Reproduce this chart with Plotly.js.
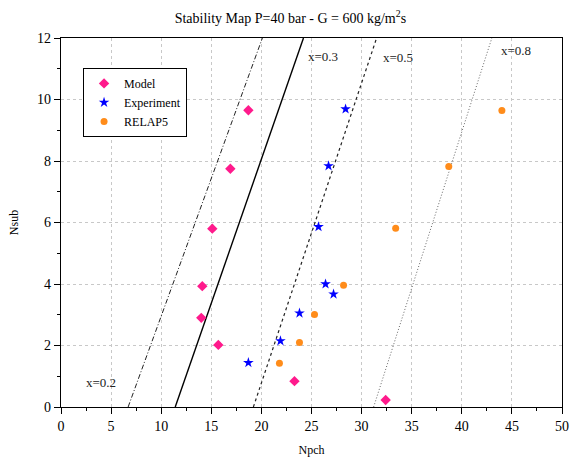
<!DOCTYPE html>
<html>
<head>
<meta charset="utf-8">
<script src="https://cdn.plot.ly/plotly-3.0.1.min.js"></script>
<style>html,body{margin:0;padding:0;background:#fff;}#chart{width:575px;height:457px;}</style>
</head>
<body>
<div id="chart"></div>
<script>
// Data
const modelX = [18.7, 16.9, 15.1, 14.1, 14.0, 15.7, 23.3, 32.4];
const modelY = [9.65, 7.75, 5.8, 3.93, 2.9, 2.02, 0.84, 0.23];
const expX = [28.4, 26.7, 25.7, 26.4, 27.2, 23.8, 21.9, 18.7];
const expY = [9.69, 7.84, 5.86, 4.0, 3.67, 3.05, 2.15, 1.44];
const relapX = [44.0, 38.7, 33.4, 28.2, 25.3, 23.8, 21.8];
const relapY = [9.64, 7.82, 5.81, 3.96, 3.01, 2.1, 1.42];
const lineY = [0, 12];
const line02X = [6.7, 20.1];
const line03X = [11.4, 24.2];
const line05X = [19.2, 31.5];
const line08X = [31.2, 43.0];
const lineLabels = ["x=0.2", "x=0.3", "x=0.5", "x=0.8"];
const labelX = [4.0, 26.15, 33.6, 45.4];
const labelY = [0.81, 11.41, 11.38, 11.6];

const serif = "Liberation Serif, Times New Roman, serif";

const traces = [
  {x: line02X, y: lineY, mode: 'lines', line: {color: '#222', width: 1, dash: '5px,2px,1px,2px'}, showlegend: false, hoverinfo: 'skip'},
  {x: line03X, y: lineY, mode: 'lines', line: {color: '#000', width: 1.4}, showlegend: false, hoverinfo: 'skip'},
  {x: line05X, y: lineY, mode: 'lines', line: {color: '#222', width: 1.2, dash: '3px,3px'}, showlegend: false, hoverinfo: 'skip'},
  {x: line08X, y: lineY, mode: 'lines', line: {color: '#666', width: 1, dash: '1px,2px'}, showlegend: false, hoverinfo: 'skip'},
  {x: modelX, y: modelY, mode: 'markers', name: 'Model', marker: {symbol: 'diamond', size: 8, color: '#FF1A8C'}},
  {x: expX, y: expY, mode: 'markers', name: 'Experiment', marker: {symbol: 'star', size: 8, color: '#0000FF'}},
  {x: relapX, y: relapY, mode: 'markers', name: 'RELAP5', marker: {symbol: 'circle', size: 7, color: '#FF8C1A'}}
];

const annotations = lineLabels.map((t, i) => ({
  x: labelX[i], y: labelY[i], xref: 'x', yref: 'y', text: t, showarrow: false,
  font: {family: serif, size: 13, color: '#222'}
}));

const layout = {
  width: 575, height: 457,
  margin: {l: 61, r: 13, t: 38, b: 50},
  paper_bgcolor: '#fff', plot_bgcolor: '#fff',
  font: {family: serif, color: '#000'},
  title: {text: 'Stability Map P=40 bar - G = 600 kg/m<sup>2</sup>s', font: {family: serif, size: 14, color: '#000'},
          x: 0.505, xanchor: 'center', y: 0.96, yanchor: 'middle', yref: 'container'},
  showlegend: true,
  legend: {x: 0.044, y: 0.919, xanchor: 'left', yanchor: 'top', bgcolor: '#fff', bordercolor: '#000', borderwidth: 1,
           font: {family: serif, size: 12, color: '#000'}, tracegroupgap: 0, itemwidth: 30},
  xaxis: {range: [0, 50], dtick: 5, tick0: 0, showline: true, linecolor: '#000', linewidth: 1.3, mirror: true,
          ticks: 'outside', ticklen: 6, tickcolor: '#000', tickfont: {family: serif, size: 14},
          minor: {dtick: 2.5, ticks: 'outside', ticklen: 3, tickcolor: '#000', showgrid: false},
          showgrid: true, gridcolor: '#c8c8c8', griddash: 'dot', gridwidth: 1, zeroline: false,
          title: {text: 'Npch', font: {family: serif, size: 12}, standoff: 17}, automargin: false},
  yaxis: {range: [0, 12], dtick: 2, tick0: 0, showline: true, linecolor: '#000', linewidth: 1.3, mirror: true,
          ticks: 'outside', ticklen: 6, tickcolor: '#000', tickfont: {family: serif, size: 14},
          minor: {dtick: 1, ticks: 'outside', ticklen: 3, tickcolor: '#000', showgrid: false},
          showgrid: true, gridcolor: '#c8c8c8', griddash: 'dot', gridwidth: 1, zeroline: false,
          title: {text: 'Nsub', font: {family: serif, size: 12}, standoff: 15}, automargin: false},
  xaxis2: {overlaying: 'x', side: 'top', anchor: 'y', range: [0, 50], dtick: 5, tick0: 0, ticks: 'inside', ticklen: 6,
           tickcolor: '#000', showticklabels: false, showgrid: false, zeroline: false, showline: false,
           minor: {dtick: 2.5, ticks: 'inside', ticklen: 3, tickcolor: '#000', showgrid: false}},
  yaxis2: {overlaying: 'y', side: 'right', anchor: 'x', range: [0, 12], dtick: 2, tick0: 0, ticks: 'inside', ticklen: 6,
           tickcolor: '#000', showticklabels: false, showgrid: false, zeroline: false, showline: false,
           minor: {dtick: 1, ticks: 'inside', ticklen: 3, tickcolor: '#000', showgrid: false}},
  annotations: annotations
};

Plotly.newPlot('chart', traces, layout, {displayModeBar: false, staticPlot: true});
</script>
</body>
</html>
